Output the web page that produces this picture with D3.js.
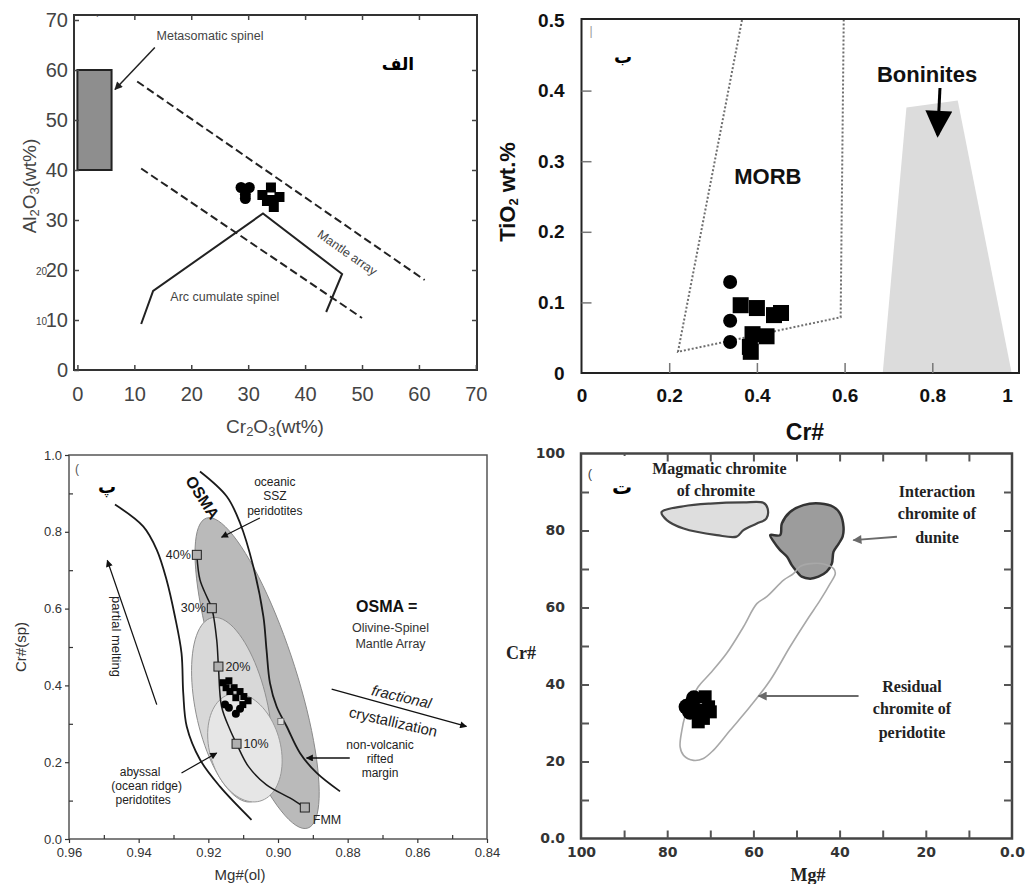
<!DOCTYPE html>
<html><head><meta charset="utf-8">
<script src="https://cdn.jsdelivr.net/npm/d3@7"></script>
<style>
body{margin:0;background:#fff;}
svg{display:block;}
</style></head><body>
<svg id="chart" width="1029" height="884"></svg>
<script>
// ================= DATA =================
// Panel A (الف): Al2O3 vs Cr2O3
const aTicks = [0,10,20,30,40,50,60,70];
const aMetasomaticBox = [[0,40],[6,60]];
const aMantleUpper = [[10.5,57.7],[61,18]];
const aMantleLower = [[11.2,40.3],[50,10.4]];
const aArcCumulate = [[11.2,9.2],[13.3,15.8],[32.6,31.3],[46.5,19.2],[43.7,11.6]];
const aCircles = [[28.75,36.5],[30.2,36.5],[29.5,35.1],[29.5,34.3]];
const aSquares = [[32.5,35],[34,36.5],[34,34],[35.5,34.6],[34.5,32.6],[33.3,33.8]];

// Panel B (ب): TiO2 vs Cr#
const bTicksX = [0,0.2,0.4,0.6,0.8,1];
const bTicksY = [0,0.1,0.2,0.3,0.4,0.5];
const bMorb = [[0.366,0.5],[0.22,0.03],[0.591,0.079],[0.598,0.5]];
const bBoninites = [[0.687,0],[0.741,0.376],[0.858,0.386],[0.981,0]];
const bCircles = [[0.339,0.129],[0.339,0.074],[0.339,0.044]];
const bSquares = [[0.363,0.096],[0.400,0.092],[0.439,0.082],[0.455,0.085],[0.390,0.055],[0.422,0.052],[0.384,0.037],[0.386,0.030]];

// Panel C (پ): Cr#(sp) vs Mg#(ol)
const cTicksX = [0.96,0.94,0.92,0.90,0.88,0.86,0.84];
const cMinorX = [0.95,0.93,0.91,0.89,0.87,0.85];
const cTicksY = [0,0.2,0.4,0.6,0.8,1.0];
const cMinorY = [0.1,0.3,0.5,0.7,0.9];
// ellipses: [cx, cy, ax, ay, bx, by] (centre + two conjugate semi-axes, data units)
const cEllipseSSZ = [0.906,0.432,0.01455,0.4036,-0.0103,0.0307];
const cEllipseAbyssal = [0.9132,0.3367,0.00574,0.2396,-0.0101,0.0198];
const cEllipseInner = [0.9095,0.238,0.0014,0.1406,-0.0106,-0.0156];
const cOsmaLeft = [[0.9468,0.871],[0.9387,0.814],[0.9348,0.753],[0.9320,0.675],[0.9296,0.580],[0.9277,0.484],[0.9272,0.380],[0.9262,0.293],[0.9224,0.207],[0.9167,0.137],[0.9076,0.050]];
const cOsmaRight = [[0.9224,0.957],[0.9147,0.892],[0.9109,0.823],[0.9071,0.710],[0.9042,0.580],[0.9033,0.493],[0.9023,0.406],[0.9004,0.345],[0.8975,0.293],[0.8937,0.224],[0.8889,0.172],[0.8822,0.124]];
const cMeltPath = [[0.9233,0.740],[0.9224,0.675],[0.9205,0.632],[0.9190,0.601],[0.9176,0.519],[0.9171,0.449],[0.9162,0.345],[0.9138,0.285],[0.9119,0.248],[0.9085,0.189],[0.9033,0.141],[0.8966,0.107],[0.8923,0.082]];
const cMeltSteps = [[0.9233,0.740],[0.9190,0.601],[0.9171,0.449],[0.9119,0.248],[0.8923,0.082]];
const cMeltLabels = ["40%","30%","20%","10%","FMM"];
const cSquares = [[0.9158,0.407],[0.9141,0.412],[0.9126,0.394],[0.9109,0.384],[0.9098,0.371],[0.9086,0.360],[0.9121,0.368],[0.9138,0.384],[0.9149,0.394],[0.9101,0.350]];
const cCircles = [[0.9141,0.342],[0.9121,0.326],[0.9109,0.339],[0.9152,0.350]];

// Panel D (ت): Cr# vs Mg#
const dTicks = [0,20,40,60,80,100];
const dMinor = [10,30,50,70,90];
const dMagmatic = [[81.3,84.8],[76.2,86.3],[70.0,87.0],[62.3,87.3],[57.7,87.2],[56.7,85.7],[57.0,83.1],[59.2,81.8],[62.3,80.1],[63.9,78.4],[68.5,78.8],[76.2,80.5],[80.1,82.7]];
const dInteraction = [[56.1,78.8],[53.8,78.8],[53.4,81.8],[51.5,84.8],[48.4,86.6],[44.5,87.0],[41.4,86.1],[39.9,84.4],[39.1,81.0],[39.3,78.4],[40.2,76.6],[41.4,74.5],[41.8,71.4],[43.0,69.3],[44.9,68.0],[46.8,67.5],[48.8,68.0],[49.9,69.3],[51.1,71.0],[52.2,73.2],[53.8,74.9],[55.3,77.1]];
const dResidual = [[50.7,68.8],[53.0,67.1],[56.9,62.8],[59.2,61.0],[62.3,55.0],[66.2,48.1],[70.0,42.9],[72.8,39.4],[74.7,35.1],[75.9,31.6],[76.6,28.1],[77.0,23.8],[76.2,21.6],[73.9,20.3],[71.6,20.8],[69.3,22.9],[65.4,28.1],[60.8,34.2],[56.1,41.1],[51.5,49.8],[47.6,56.7],[44.5,61.9],[42.2,66.2],[41.0,68.8],[41.4,70.1],[43.7,71.3],[46.8,71.4],[49.1,70.7]];
const dCircles = [[75.5,34.2],[73.8,36.4],[74.7,32.9]];
const dSquares = [[71.2,36.8],[70.4,34.2],[71.6,31.2],[72.8,30.3],[73.1,33.3],[70.0,32.9]];

// ================= DRAWING =================
const svg = d3.select("#chart");
svg.append("rect").attr("width",1029).attr("height",884).attr("fill","#fff");
const defs = svg.append("defs");
function marker(id, color, len, wid){
  defs.append("marker").attr("id",id).attr("viewBox","0 0 10 10")
    .attr("refX",9).attr("refY",5).attr("markerWidth",len).attr("markerHeight",wid)
    .attr("markerUnits","userSpaceOnUse").attr("orient","auto")
    .append("path").attr("d","M0,0L10,5L0,10z").attr("fill",color);
}
marker("arrA","#222",10,8);
marker("arrC","#111",10,7);
marker("arrD","#6a6a6a",13,9);
marker("arrB","#000",28,27);

const SANS = "'Liberation Sans', Arial, sans-serif";
const SERIF = "'Liberation Serif', 'Times New Roman', serif";
const ARAB = "'DejaVu Sans', sans-serif";

function styleAxis(g, o){
  g.select(".domain").remove();
  g.attr("font-family",o.font).attr("font-size",o.size).attr("font-weight",o.weight||"normal");
  g.selectAll("text").attr("fill",o.color);
  g.selectAll("line").attr("stroke",o.tick||o.color).attr("stroke-width",o.tw||1.5);
}
function text(g, x, y, s, o){
  const t = g.append("text").attr("x",x).attr("y",y).text(s)
    .attr("font-family",o.font||SANS).attr("font-size",o.size||12)
    .attr("font-weight",o.weight||"normal").attr("fill",o.color||"#222")
    .attr("text-anchor",o.anchor||"middle").attr("dominant-baseline","central");
  if(o.rotate) t.attr("transform",`rotate(${o.rotate},${x},${y})`);
  if(o.style) t.attr("font-style",o.style);
  return t;
}
function squares(g, data, xs, ys, size, fill, stroke){
  g.append("g").selectAll("rect").data(data).join("rect")
    .attr("x",d=>xs(d[0])-size/2).attr("y",d=>ys(d[1])-size/2)
    .attr("width",size).attr("height",size).attr("fill",fill)
    .attr("stroke",stroke||"none");
}
function circles(g, data, xs, ys, r, fill){
  g.append("g").selectAll("circle").data(data).join("circle")
    .attr("cx",d=>xs(d[0])).attr("cy",d=>ys(d[1])).attr("r",r).attr("fill",fill);
}
function arrow(g, p0, p1, xs, ys, color, w, m){
  g.append("line").attr("x1",xs(p0[0])).attr("y1",ys(p0[1]))
    .attr("x2",xs(p1[0])).attr("y2",ys(p1[1])).attr("stroke",color)
    .attr("stroke-width",w).attr("marker-end",`url(#${m})`);
}

// ---------------- Panel A ----------------
{
  const xs = d3.scaleLinear().domain([-0.6,70.2]).range([74,477]);
  const ys = d3.scaleLinear().domain([0,71]).range([370,15]);
  const g = svg.append("g");
  const line = d3.line().x(d=>xs(d[0])).y(d=>ys(d[1]));
  g.append("rect").attr("x",xs(aMetasomaticBox[0][0])).attr("y",ys(aMetasomaticBox[1][1]))
    .attr("width",xs(aMetasomaticBox[1][0])-xs(aMetasomaticBox[0][0]))
    .attr("height",ys(aMetasomaticBox[0][1])-ys(aMetasomaticBox[1][1]))
    .attr("fill","#8e8e8e").attr("stroke","#222").attr("stroke-width",2);
  [aMantleUpper,aMantleLower].forEach(l=>g.append("path").attr("d",line(l))
    .attr("fill","none").attr("stroke","#222").attr("stroke-width",2).attr("stroke-dasharray","8,4"));
  g.append("path").attr("d",line(aArcCumulate)).attr("fill","none").attr("stroke","#222").attr("stroke-width",2);
  circles(g, aCircles, xs, ys, 5.5, "#000");
  squares(g, aSquares, xs, ys, 10, "#000");
  g.append("rect").attr("x",74).attr("y",15).attr("width",403).attr("height",355)
    .attr("fill","none").attr("stroke","#333").attr("stroke-width",2);
  const ao = {font:SANS,size:20,color:"#444",tick:"#444",tw:1.5};
  styleAxis(g.append("g").attr("transform","translate(0,370)")
    .call(d3.axisBottom(xs).tickValues(aTicks).tickSizeInner(-5).tickSizeOuter(0).tickPadding(17)), ao);
  styleAxis(g.append("g").attr("transform","translate(74,0)")
    .call(d3.axisLeft(ys).tickValues(aTicks).tickSizeInner(-5).tickSizeOuter(0).tickPadding(6)), ao);
  styleAxis(g.append("g").attr("transform","translate(0,15)")
    .call(d3.axisTop(xs).tickValues(aTicks.slice(1,-1)).tickSize(-5).tickFormat("")), ao);
  styleAxis(g.append("g").attr("transform","translate(477,0)")
    .call(d3.axisRight(ys).tickValues(aTicks.slice(1,-1)).tickSize(-5).tickFormat("")), ao);
  // small duplicated tick digits
  [20,10].forEach(v=>text(g,47,ys(v)+1,String(v),{size:10,color:"#444",anchor:"end"}));
  text(g,97,21,"`",{size:12,color:"#444"});
  // axis titles
  const yt = g.append("text").attr("transform","translate(29,186) rotate(-90)")
    .attr("text-anchor","middle").attr("dominant-baseline","central")
    .attr("font-family",SANS).attr("font-size",19).attr("fill","#444");
  yt.append("tspan").text("Al");
  yt.append("tspan").text("2").attr("font-size",13).attr("dy",5);
  yt.append("tspan").text("O").attr("dy",-5);
  yt.append("tspan").text("3").attr("font-size",13).attr("dy",5);
  yt.append("tspan").text("(wt%)").attr("dy",-5);
  const xt = g.append("text").attr("x",275).attr("y",426)
    .attr("text-anchor","middle").attr("dominant-baseline","central")
    .attr("font-family",SANS).attr("font-size",19).attr("fill","#444");
  xt.append("tspan").text("Cr");
  xt.append("tspan").text("2").attr("font-size",13).attr("dy",5);
  xt.append("tspan").text("O").attr("dy",-5);
  xt.append("tspan").text("3").attr("font-size",13).attr("dy",5);
  xt.append("tspan").text("(wt%)").attr("dy",-5);
  // annotations
  text(g,xs(23.3),ys(66.9),"Metasomatic spinel",{size:12.5,color:"#444"});
  arrow(g,[13.6,64.5],[6.6,56.1],xs,ys,"#222",1.5,"arrA");
  text(g,xs(47.4),ys(23.4),"Mantle array",{size:12.5,color:"#444",rotate:35});
  text(g,xs(25.9),ys(14.6),"Arc cumulate spinel",{size:12.5,color:"#444"});
  text(g,xs(56.3),ys(61.3),"الف",{font:ARAB,size:17,weight:"bold",color:"#000"});
}

// ---------------- Panel B ----------------
{
  const xs = d3.scaleLinear().domain([0,1]).range([581.5,1020]);
  const ys = d3.scaleLinear().domain([0,0.5]).range([373,20]);
  const g = svg.append("g");
  const line = d3.line().x(d=>xs(d[0])).y(d=>ys(d[1]));
  g.append("path").attr("d",line(bBoninites)+"Z").attr("fill","#dcdcdc");
  g.append("path").attr("d",line(bMorb)).attr("fill","none").attr("stroke","#6e6e6e")
    .attr("stroke-width",2).attr("stroke-dasharray","2,2");
  circles(g, bCircles, xs, ys, 7, "#000");
  squares(g, bSquares, xs, ys, 16, "#000");
  g.append("rect").attr("x",581.5).attr("y",19).attr("width",437.5).attr("height",354)
    .attr("fill","none").attr("stroke","#222").attr("stroke-width",2);
  const bo = {font:SANS,size:19,weight:"bold",color:"#111",tick:"#777",tw:1.5};
  const ax = g.append("g").attr("transform","translate(0,373)")
    .call(d3.axisBottom(xs).tickValues(bTicksX).tickSizeInner(-10).tickSizeOuter(0).tickPadding(16)
      .tickFormat(d=>d===0||d===1?String(d):d3.format(".1f")(d)));
  styleAxis(ax, bo);
  ax.selectAll(".tick").filter(d=>d===1).select("text").attr("dx",-13);
  ax.selectAll(".tick").filter(d=>d===0||d===1).select("line").remove();
  const ay = g.append("g").attr("transform","translate(581.5,0)")
    .call(d3.axisLeft(ys).tickValues(bTicksY).tickSizeInner(-10).tickSizeOuter(0).tickPadding(17)
      .tickFormat(d=>d===0?"0":d3.format(".1f")(d)));
  styleAxis(ay, bo);
  ay.selectAll(".tick").filter(d=>d===0||d===0.5).select("line").remove();
  // titles
  const yt = g.append("text").attr("transform","translate(507,192) rotate(-90)")
    .attr("text-anchor","middle").attr("dominant-baseline","central")
    .attr("font-family",SANS).attr("font-size",22).attr("font-weight","bold").attr("fill","#111");
  yt.append("tspan").text("TiO");
  yt.append("tspan").text("2").attr("font-size",13).attr("dy",6);
  yt.append("tspan").text(" wt.%").attr("dy",-6);
  text(g,805,432,"Cr#",{size:23,weight:"bold",color:"#111"});
  text(g,xs(0.425),ys(0.278),"MORB",{size:22,weight:"bold",color:"#111"});
  text(g,xs(0.788),ys(0.4235),"Boninites",{size:22,weight:"bold",color:"#111"});
  arrow(g,[0.8175,0.4037],[0.8123,0.337],xs,ys,"#000",3,"arrB");
  text(g,591,31,"|",{size:12,color:"#999"});
  text(g,xs(0.0946),ys(0.4476),"ب",{font:ARAB,size:18,weight:"bold",color:"#000"});
}

// ---------------- Panel C ----------------
{
  const xs = d3.scaleLinear().domain([0.96,0.84]).range([69,487]);
  const ys = d3.scaleLinear().domain([0,1]).range([839,455]);
  const g = svg.append("g");
  const line = d3.line().x(d=>xs(d[0])).y(d=>ys(d[1]));
  const smooth = d3.line().x(d=>xs(d[0])).y(d=>ys(d[1])).curve(d3.curveCatmullRom.alpha(0.5));
  function ellipsePts(e){
    return d3.range(0,360,4).map(deg=>{const t=deg*Math.PI/180;
      return [e[0]+Math.cos(t)*e[2]+Math.sin(t)*e[4], e[1]+Math.cos(t)*e[3]+Math.sin(t)*e[5]];});
  }
  g.append("path").attr("d",line(ellipsePts(cEllipseSSZ))+"Z").attr("fill","#bababa").attr("stroke","#8a8a8a").attr("stroke-width",1);
  g.append("path").attr("d",line(ellipsePts(cEllipseAbyssal))+"Z").attr("fill","#d8d8d8").attr("stroke","#8f8f8f").attr("stroke-width",1);
  g.append("path").attr("d",line(ellipsePts(cEllipseInner))+"Z").attr("fill","#e6e6e6").attr("stroke","#999").attr("stroke-width",1);
  [cOsmaLeft,cOsmaRight].forEach(l=>g.append("path").attr("d",smooth(l)).attr("fill","none")
    .attr("stroke","#1a1a1a").attr("stroke-width",1.8));
  g.append("path").attr("d",smooth(cMeltPath)).attr("fill","none").attr("stroke","#1a1a1a").attr("stroke-width",1.5);
  squares(g, cMeltSteps, xs, ys, 9, "#b0b0b0", "#222");
  squares(g, [[0.8992,0.306]], xs, ys, 6, "#ddd", "#777");
  squares(g, cSquares, xs, ys, 7, "#000");
  circles(g, cCircles, xs, ys, 4, "#000");
  g.append("rect").attr("x",69).attr("y",455).attr("width",418).attr("height",384)
    .attr("fill","none").attr("stroke","#555").attr("stroke-width",1.5);
  const co = {font:SANS,size:13,color:"#333",tick:"#333",tw:1.2};
  styleAxis(g.append("g").attr("transform","translate(0,839)")
    .call(d3.axisBottom(xs).tickValues(cTicksX).tickSizeInner(4).tickSizeOuter(0).tickPadding(5)
      .tickFormat(d3.format(".2f"))), co);
  styleAxis(g.append("g").attr("transform","translate(0,839)")
    .call(d3.axisBottom(xs).tickValues(cMinorX).tickSize(-4).tickFormat("")), co);
  styleAxis(g.append("g").attr("transform","translate(69,0)")
    .call(d3.axisLeft(ys).tickValues(cTicksY).tickSizeInner(4).tickSizeOuter(0).tickPadding(3)
      .tickFormat(d3.format(".1f"))), co);
  styleAxis(g.append("g").attr("transform","translate(69,0)")
    .call(d3.axisLeft(ys).tickValues(cMinorY).tickSize(-4).tickFormat("")), co);
  text(g,20,647,"Cr#(sp)",{size:15,color:"#333",rotate:-90});
  text(g,240,874,"Mg#(ol)",{size:15,color:"#333"});
  // annotations
  const a = {size:12,color:"#222"};
  text(g,xs(0.9217),ys(0.889),"OSMA",{size:16,weight:"bold",color:"#111",rotate:57});
  text(g,xs(0.9009),ys(0.930),"oceanic",a);
  text(g,xs(0.9009),ys(0.892),"SSZ",a);
  text(g,xs(0.9009),ys(0.855),"peridotites",a);
  arrow(g,[0.9052,0.836],[0.9162,0.786],xs,ys,"#111",1.2,"arrC");
  cMeltSteps.forEach((d,i)=>{
    const lab = cMeltLabels[i];
    if(i<2) text(g,xs(d[0])-6,ys(d[1]),lab,{size:12.5,color:"#222",anchor:"end"});
    else if(i<4) text(g,xs(d[0])+7,ys(d[1]),lab,{size:12.5,color:"#222",anchor:"start"});
    else text(g,xs(d[0])+8,ys(d[1])+12,lab,{size:12.5,color:"#222",anchor:"start"});
  });
  text(g,xs(0.8688),ys(0.606),"OSMA =",{size:16,weight:"bold",color:"#111"});
  text(g,xs(0.8677),ys(0.549),"Olivine-Spinel",{size:12.5,color:"#333"});
  text(g,xs(0.8677),ys(0.5086),"Mantle Array",{size:12.5,color:"#333"});
  text(g,xs(0.9463),ys(0.5276),"partial melting",{size:13,color:"#222",rotate:90});
  arrow(g,[0.9348,0.350],[0.9490,0.7255],xs,ys,"#111",1.3,"arrC");
  text(g,xs(0.8645),ys(0.371),"fractional",{size:15,color:"#222",rotate:13,style:"italic"});
  text(g,xs(0.8669),ys(0.306),"crystallization",{size:15,color:"#222",rotate:13});
  arrow(g,[0.8846,0.3906],[0.8459,0.293],xs,ys,"#111",1.3,"arrC");
  text(g,xs(0.8707),ys(0.2456),"non-volcanic",a);
  text(g,xs(0.8707),ys(0.2083),"rifted",a);
  text(g,xs(0.8707),ys(0.172),"margin",a);
  arrow(g,[0.8794,0.211],[0.8918,0.211],xs,ys,"#111",1.3,"arrC");
  text(g,xs(0.9396),ys(0.1745),"abyssal",a);
  text(g,xs(0.9377),ys(0.137),"(ocean ridge)",a);
  text(g,xs(0.9387),ys(0.1005),"peridotites",a);
  arrow(g,[0.9277,0.172],[0.9176,0.224],xs,ys,"#111",1.2,"arrC");
  text(g,77,469,"(",{size:12,color:"#555"});
  text(g,xs(0.9491),ys(0.917),"پ",{font:ARAB,size:18,weight:"bold",color:"#000"});
}

// ---------------- Panel D ----------------
{
  const xs = d3.scaleLinear().domain([100,0]).range([581,1012]);
  const ys = d3.scaleLinear().domain([0,100]).range([838.5,453.5]);
  const g = svg.append("g");
  const blob = d3.line().x(d=>xs(d[0])).y(d=>ys(d[1])).curve(d3.curveCatmullRomClosed.alpha(0.5));
  g.append("path").attr("d",blob(dMagmatic)).attr("fill","#dedede").attr("stroke","#444").attr("stroke-width",2.2);
  g.append("path").attr("d",blob(dInteraction)).attr("fill","#9c9c9c").attr("stroke","#333").attr("stroke-width",2.5);
  g.append("path").attr("d",blob(dResidual)).attr("fill","none").attr("stroke","#a8a8a8").attr("stroke-width",1.6);
  circles(g, dCircles, xs, ys, 8, "#000");
  squares(g, dSquares, xs, ys, 13, "#000");
  g.append("rect").attr("x",581).attr("y",453.5).attr("width",431).attr("height",385)
    .attr("fill","none").attr("stroke","#444").attr("stroke-width",2.5);
  const allT = dTicks.concat(dMinor);
  const fmt = d=>d===0?"0.0":String(d);
  const dop = {font:"'DejaVu Sans', sans-serif",size:14,weight:"bold",color:"#333",tick:"#555",tw:2};
  styleAxis(g.append("g").attr("transform","translate(0,838.5)")
    .call(d3.axisBottom(xs).tickValues(allT.filter(v=>v>0&&v<100)).tickSize(-8).tickFormat("")), dop);
  styleAxis(g.append("g").attr("transform","translate(0,838.5)")
    .call(d3.axisBottom(xs).tickValues(dTicks).tickSize(0).tickPadding(9).tickFormat(fmt)), dop);
  styleAxis(g.append("g").attr("transform","translate(0,453.5)")
    .call(d3.axisTop(xs).tickValues(allT.filter(v=>v>0&&v<100)).tickSize(-8).tickFormat("")), dop);
  styleAxis(g.append("g").attr("transform","translate(581,0)")
    .call(d3.axisLeft(ys).tickValues(allT.filter(v=>v>0&&v<100)).tickSize(-8).tickFormat("")), dop);
  styleAxis(g.append("g").attr("transform","translate(581,0)")
    .call(d3.axisLeft(ys).tickValues(dTicks).tickSize(0).tickPadding(16).tickFormat(fmt)), dop);
  styleAxis(g.append("g").attr("transform","translate(1012,0)")
    .call(d3.axisRight(ys).tickValues(allT.filter(v=>v>0&&v<100)).tickSize(-8).tickFormat("")), dop);
  text(g,521,653,"Cr#",{font:SERIF,size:18,weight:"bold",color:"#222"});
  text(g,808,875,"Mg#",{font:SERIF,size:18,weight:"bold",color:"#222"});
  const s = {font:SERIF,size:16,weight:"bold",color:"#222"};
  text(g,xs(67.9),ys(96.2),"Magmatic chromite",s);
  text(g,xs(68.7),ys(90.5),"of chromite",s);
  text(g,xs(17.4),ys(90.1),"Interaction",s);
  text(g,xs(17.4),ys(84.3),"chromite of",s);
  text(g,xs(17.4),ys(78.2),"dunite",s);
  arrow(g,[26.7,78.4],[36.8,77.5],xs,ys,"#6a6a6a",2,"arrD");
  text(g,xs(23.2),ys(39.4),"Residual",s);
  text(g,xs(23.2),ys(33.8),"chromite of",s);
  text(g,xs(23.2),ys(27.5),"peridotite",s);
  arrow(g,[35.6,37.0],[58.8,37.0],xs,ys,"#6a6a6a",2,"arrD");
  text(g,590,473,"(",{size:13,color:"#444"});
  g.append("rect").attr("x",593).attr("y",456).attr("width",53).attr("height",50).attr("fill","#fff");
  text(g,xs(90.5),ys(91.3),"ت",{font:ARAB,size:20,weight:"bold",color:"#000"});
}
</script>
</body></html>
